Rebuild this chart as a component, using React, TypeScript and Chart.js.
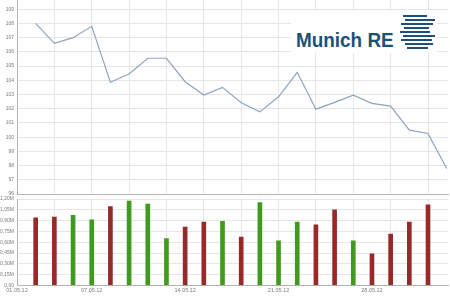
import React, { useEffect, useRef } from "react";
import { Chart, registerables } from "chart.js";
Chart.register(...registerables);

// Closing prices (EUR), trading days 02.05.12 – 01.06.12
const closes = [108.0, 106.6, 107.0, 107.8, 103.86, 104.44, 105.55, 105.55, 103.9, 102.96, 103.5, 102.42, 101.78, 102.84, 104.56, 101.97, 102.45, 102.96, 102.38, 102.18, 100.49, 100.26, 97.79];
// Daily volume (millions of shares)
const volumes = [0.94, 0.95, 0.975, 0.91, 1.095, 1.17, 1.13, 0.65, 0.81, 0.88, 0.89, 0.67, 1.15, 0.62, 0.88, 0.84, 1.05, 0.62, 0.44, 0.715, 0.88, 1.12];
const volumeDirections = ["down", "down", "up", "up", "down", "up", "up", "up", "down", "down", "up", "down", "up", "up", "up", "down", "down", "up", "down", "down", "down", "down"];
const xTickPositions = [0, 4, 9, 14, 19];
const xTickLabels = ["01.05.12", "07.05.12", "14.05.12", "21.05.12", "28.05.12"];
const priceTicks = [96, 97, 98, 99, 100, 101, 102, 103, 104, 105, 106, 107, 108, 109];
const volumeTicks = [0, 0.15, 0.3, 0.45, 0.6, 0.75, 0.9, 1.05, 1.2];

const GRID = "#e6e6e6";
const AXIS = "#b4b4b4";
const TXT = "#7a7a7a";
const FONT = "'Liberation Sans', Arial, sans-serif";
const UP = "#3f9a1e";
const DOWN = "#962a2a";

function xAxis(showLabels: boolean, height: number): any {
  return {
    type: "linear",
    min: 0,
    max: 23.07,
    offset: false,
    afterBuildTicks: (s: any) => {
      const t = [];
      for (let i = 0; i <= 23; i++) t.push({ value: i });
      s.ticks = t;
    },
    afterFit: (s: any) => {
      s.height = height;
      s.paddingLeft = 0;
      s.paddingRight = 0;
    },
    grid: {
      offset: false,
      drawTicks: false,
      color: (c: any) => (c.tick && c.tick.value > 0 && c.tick.value % 2 === 0 ? GRID : "rgba(0,0,0,0)"),
    },
    border: { display: true, color: AXIS },
    ticks: {
      display: showLabels,
      autoSkip: false,
      maxRotation: 0,
      padding: 2,
      color: TXT,
      font: { size: 5.5, family: FONT },
      callback: (v: number) => {
        const k = xTickPositions.indexOf(v);
        return k >= 0 ? xTickLabels[k] : "";
      },
    },
  };
}

function yAxis(min: number, max: number, ticks: number[], fmt: (v: number) => string): any {
  return {
    min,
    max,
    afterBuildTicks: (s: any) => {
      s.ticks = ticks.map((v) => ({ value: v }));
    },
    afterFit: (s: any) => {
      s.width = 17;
      s.paddingTop = 0;
      s.paddingBottom = 0;
    },
    grid: { color: GRID, drawTicks: false },
    border: { display: true, color: AXIS },
    ticks: { padding: 3, color: TXT, font: { size: 5, family: FONT }, callback: (v: number) => fmt(v) },
  };
}

export default function App() {
  const topRef = useRef<HTMLCanvasElement>(null);
  const botRef = useRef<HTMLCanvasElement>(null);

  useEffect(() => {
    const top = new Chart(topRef.current as HTMLCanvasElement, {
      type: "line",
      data: {
        datasets: [
          {
            data: closes.map((v, i) => ({ x: i + 1, y: v })),
            borderColor: "#8ea3c0",
            borderWidth: 1.2,
            pointRadius: 0,
            tension: 0,
            fill: false,
          },
        ],
      },
      options: {
        responsive: false,
        animation: false,
        devicePixelRatio: 1,
        layout: { padding: { left: 0, right: 2, top: 0, bottom: 0 } },
        plugins: { legend: { display: false }, tooltip: { enabled: false } },
        scales: {
          x: xAxis(false, 1),
          y: yAxis(96, 109.65, priceTicks, (v) => String(v)),
        },
      } as any,
    });

    const bot = new Chart(botRef.current as HTMLCanvasElement, {
      type: "bar",
      data: {
        datasets: [
          {
            data: volumes.map((v, i) => ({ x: i + 1, y: v })),
            backgroundColor: volumeDirections.map((d) => (d === "up" ? UP : DOWN)),
            borderWidth: 0,
            barThickness: 4,
          },
        ],
      },
      options: {
        responsive: false,
        animation: false,
        devicePixelRatio: 1,
        layout: { padding: { left: 0, right: 2, top: 4, bottom: 0 } },
        plugins: { legend: { display: false }, tooltip: { enabled: false } },
        scales: {
          x: xAxis(true, 14.5),
          y: yAxis(0, 1.2, volumeTicks, (v) => (v === 0 ? "0,00" : v.toFixed(2).replace(".", ",") + "M")),
        },
      } as any,
    });

    return () => {
      top.destroy();
      bot.destroy();
    };
  }, []);

  const stripes = [
    { y: 15, l: 403, r: 427 },
    { y: 19, l: 405, r: 435 },
    { y: 23, l: 401, r: 433 },
    { y: 27, l: 404, r: 429 },
    { y: 31, l: 400, r: 430 },
    { y: 35, l: 403, r: 435 },
    { y: 39, l: 401, r: 432 },
    { y: 43, l: 405, r: 433 },
    { y: 47, l: 407, r: 428 },
  ];

  return (
    <div style={{ position: "absolute", left: 0, top: 0, width: 450, height: 300, background: "#fff", overflow: "hidden" }}>
      <canvas ref={topRef} width={450} height={195} style={{ position: "absolute", left: 0, top: 0, width: 450, height: 195 }} />
      <canvas ref={botRef} width={450} height={105} style={{ position: "absolute", left: 0, top: 195, width: 450, height: 105 }} />
      <div style={{ position: "absolute", left: 291, top: 11, width: 146, height: 42, background: "#fff" }}>
        <span
          style={{
            position: "absolute",
            left: 5,
            top: 18,
            fontFamily: FONT,
            fontWeight: 700,
            fontSize: 21,
            lineHeight: "21px",
            color: "#1d5079",
            whiteSpace: "nowrap",
            transform: "scaleX(0.9)",
            transformOrigin: "left top",
          }}
        >
          Munich RE
        </span>
      </div>
      {stripes.map((s, i) => (
        <div
          key={i}
          style={{ position: "absolute", left: s.l, top: s.y, width: s.r - s.l, height: 2.4, background: "#1d5079" }}
        />
      ))}
    </div>
  );
}
